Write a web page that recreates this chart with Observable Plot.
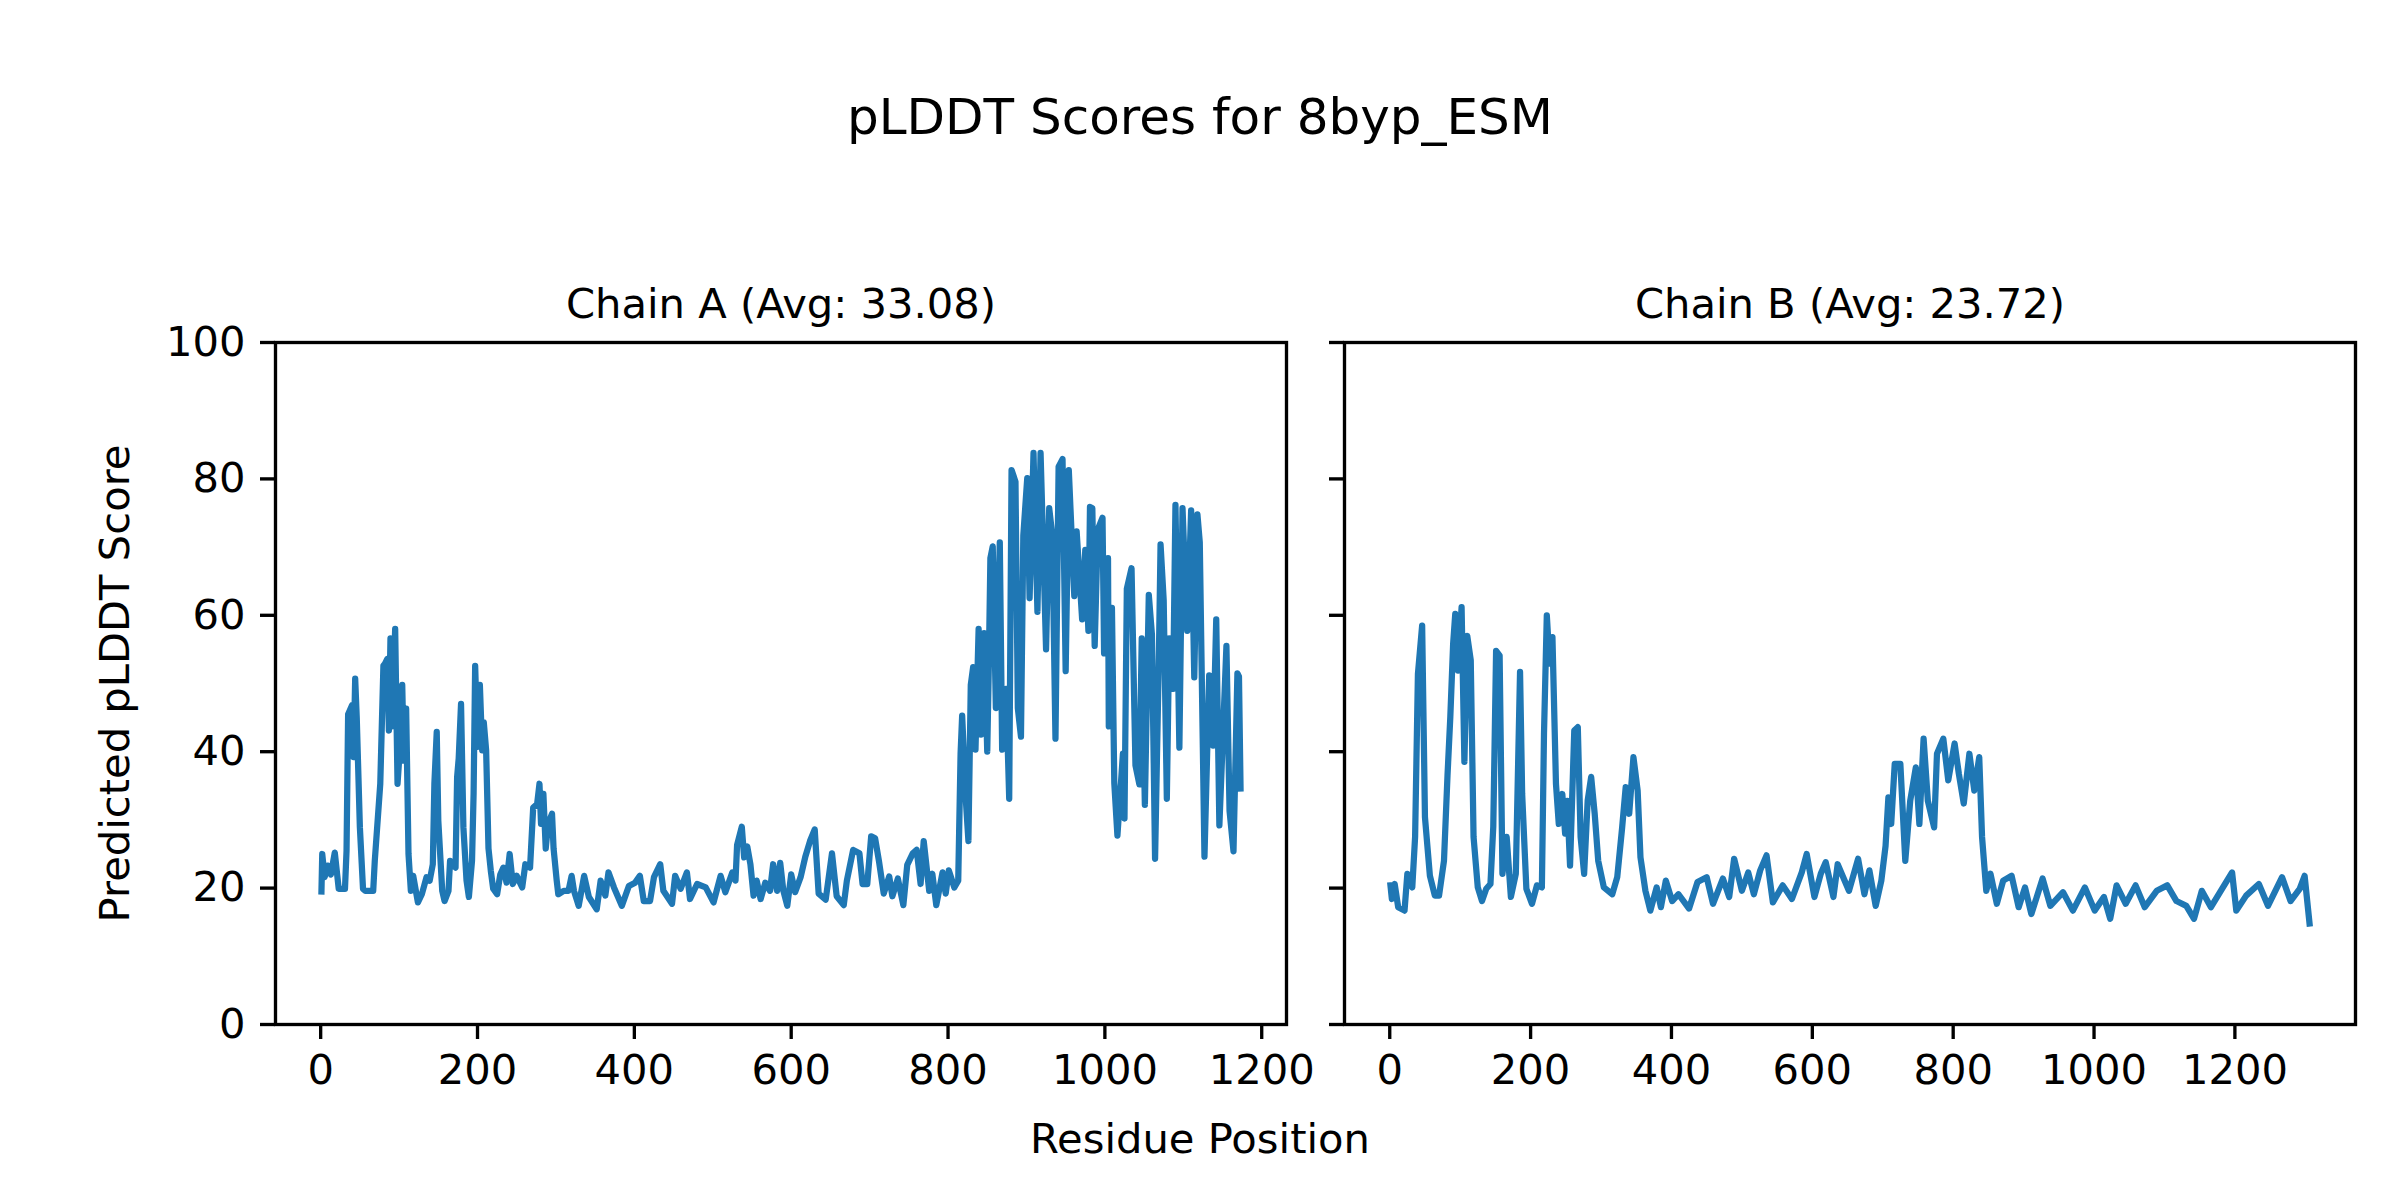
<!DOCTYPE html>
<html>
<head>
<meta charset="utf-8">
<script src="https://cdn.jsdelivr.net/npm/d3@7"></script>
<script src="https://cdn.jsdelivr.net/npm/@observablehq/plot@0.6"></script>
<style>
  html, body { margin: 0; padding: 0; background: #fff; }
  #fig { position: relative; width: 2400px; height: 1200px; background: #fff; font-family: "DejaVu Sans", sans-serif; color: #000; }
  .abs { position: absolute; }
  .sup { left: 0; width: 2400px; text-align: center; white-space: pre; }
</style>
</head>
<body>
<div id="fig"></div>
<script>
// ---------- data ----------
const figTitle = "pLDDT Scores for 8byp_ESM";
const xLabel = "Residue Position";
const yLabel = "Predicted pLDDT Score";
const chainNames = ["Chain A", "Chain B"];
const chainAvgs = [33.08, 23.72];
const xTicks = [0, 200, 400, 600, 800, 1000, 1200];
const yTicks = [0, 20, 40, 60, 80, 100];

const residueA = [1,2,5,9,13,18,23,31,33,35,40,42,44,46,50,54,57,67,69,76,80,82,85,87,89,91,95,98,100,104,106,109,112,115,118,124,129,135,139,143,145,148,150,155,158,163,165,172,174,176,179,182,186,189,193,195,197,200,203,206,208,211,214,217,220,225,229,233,237,241,245,250,257,261,267,271,276,279,281,284,287,290,295,297,301,303,310,316,320,323,329,336,342,352,357,363,367,374,384,393,401,407,412,420,425,433,437,448,452,459,467,471,480,491,501,510,516,525,529,531,537,540,544,548,552,556,561,567,573,577,582,586,590,595,600,605,612,618,624,630,635,644,652,658,667,671,679,687,691,697,702,707,712,718,725,729,736,743,748,755,760,765,769,776,780,785,793,797,801,808,813,816,818,823,826,829,832,835,839,842,846,850,852,854,857,861,866,869,874,878,881,886,889,893,896,901,904,909,914,918,925,929,933,937,941,946,950,954,961,964,971,975,979,981,984,987,991,997,999,1004,1005,1009,1012,1016,1023,1025,1028,1034,1039,1044,1047,1051,1056,1060,1064,1069,1071,1075,1079,1082,1087,1090,1095,1099,1105,1110,1114,1118,1121,1127,1133,1138,1142,1146,1150,1155,1159,1164,1169,1171,1173];
const plddtA = [19.5,25.0,21.6,23.3,22.0,25.2,19.9,19.9,25.5,45.5,46.8,39.2,50.7,45.0,28.9,19.9,19.6,19.6,24.0,35.3,52.6,52.9,53.6,43.1,56.6,43.7,58.0,35.3,38.7,49.8,38.7,46.3,25.0,19.6,21.8,17.9,19.1,21.6,21.1,23.5,35.3,42.9,29.9,19.6,18.1,19.6,24.0,23.0,36.3,39.0,47.0,28.9,21.1,18.7,24.0,33.8,52.6,40.7,49.8,40.2,44.3,40.2,25.8,22.5,19.9,19.1,22.0,23.0,20.8,25.0,20.6,21.8,20.1,23.5,23.0,31.8,32.3,35.3,29.4,33.8,25.8,29.4,30.9,25.8,21.1,19.1,19.6,19.6,21.8,19.6,17.4,21.8,18.7,16.9,21.1,18.9,22.3,20.1,17.4,20.3,20.8,21.8,18.1,18.1,21.6,23.5,19.6,17.7,21.8,19.9,22.3,18.4,20.6,20.1,17.9,21.8,19.4,22.3,21.1,26.3,29.0,24.5,26.1,23.5,18.9,21.1,18.4,20.8,19.6,23.5,19.6,23.7,19.6,17.4,22.0,19.4,21.6,24.6,26.9,28.6,19.2,18.3,25.1,18.8,17.5,21.1,25.6,25.1,20.6,20.6,27.6,27.3,23.9,19.2,21.7,18.8,21.4,17.5,23.4,25.1,25.6,20.6,26.9,19.6,22.1,17.5,22.3,19.2,22.6,20.1,21.1,39.7,45.3,32.4,26.9,49.8,52.4,40.3,58.0,42.5,57.4,40.0,52.7,68.4,70.1,46.4,70.7,40.3,49.2,33.1,81.3,79.6,46.4,42.2,71.7,80.1,62.5,83.8,60.5,83.8,55.0,75.7,71.7,41.9,81.8,82.9,51.8,81.3,62.8,72.3,59.4,69.6,57.7,75.9,75.7,55.5,72.6,74.3,54.4,68.4,43.7,61.1,35.4,27.7,39.7,30.2,63.9,66.9,38.0,35.2,56.6,32.2,63.0,57.2,24.3,55.0,70.4,62.2,33.1,56.6,49.2,76.2,40.6,75.7,57.7,75.4,50.9,74.8,70.7,24.6,51.2,40.9,59.4,29.2,40.9,55.5,31.3,25.4,51.5,51.0,34.6];

const residueB = [1,3,7,12,21,25,32,36,40,46,50,57,64,70,77,82,86,90,93,97,102,106,110,115,119,125,131,137,143,147,151,156,160,166,172,179,185,188,194,202,209,216,219,223,227,231,236,240,245,249,252,256,262,267,271,276,281,286,291,296,304,316,323,330,335,340,346,352,356,363,370,379,385,392,401,410,425,437,450,459,473,482,489,500,509,517,526,535,544,558,571,585,592,603,612,619,630,636,652,665,674,681,690,698,704,708,712,717,725,732,739,747,752,758,764,773,777,786,793,802,808,815,823,830,837,841,847,853,862,871,883,893,902,911,927,938,956,970,987,1001,1014,1023,1032,1045,1059,1072,1089,1104,1117,1131,1142,1153,1166,1180,1196,1202,1216,1234,1247,1267,1279,1292,1299,1306];
const plddtB = [20.4,18.4,20.6,17.2,16.7,22.1,20.1,27.5,51.4,58.5,30.4,21.8,18.9,18.9,24.0,36.5,45.1,55.8,60.2,51.9,61.2,38.5,57.0,53.4,27.5,20.1,18.1,19.9,20.6,29.0,54.8,54.1,22.1,27.5,18.7,22.1,51.7,33.8,19.9,17.7,20.4,20.1,42.6,60.0,52.9,56.8,35.3,29.4,33.8,28.0,32.8,23.3,43.1,43.6,27.5,22.1,32.8,36.3,30.9,24.0,20.1,19.1,21.6,28.9,34.8,30.9,39.2,34.3,24.5,19.6,16.7,20.1,17.2,21.1,18.1,19.1,17.0,20.9,21.6,17.7,21.4,18.7,24.3,19.6,22.3,19.1,22.6,24.8,17.9,20.4,18.4,22.3,25.0,18.7,22.1,23.8,18.7,23.5,19.6,24.3,19.1,22.6,17.4,21.1,26.2,33.3,29.4,38.2,38.2,24.0,32.8,37.7,29.4,41.9,32.8,28.9,39.7,41.9,35.8,41.2,36.8,32.4,39.7,34.3,39.2,27.5,19.6,22.1,17.7,21.1,21.8,17.2,20.1,16.2,21.4,17.4,19.4,16.7,20.1,16.7,18.7,15.5,20.4,17.7,20.4,17.2,19.6,20.4,18.1,17.4,15.5,19.6,17.2,19.6,22.3,16.7,18.9,20.6,17.4,21.6,18.1,19.9,21.8,14.8];

// ---------- rendering ----------
const FS = 41.67;          // 10pt at 300 dpi
const SPINE = 3.33;        // 0.8pt
const LINE = 6.25;         // 1.5pt
const BLUE = "#1f77b4";
const fig = document.getElementById("fig");

function padded(ext) {
  const r = ext[1] - ext[0];
  return [ext[0] - 0.05 * r, ext[1] + 0.05 * r];
}

function panel(residues, values, name, avg, showYLabels, opts) {
  const data = residues.map((r, i) => ({r, v: values[i]}));
  const marks = [
    Plot.line(data, {x: "r", y: "v", stroke: BLUE, strokeWidth: LINE, strokeLinejoin: "round", strokeLinecap: "square"}),
    Plot.frame({stroke: "black", strokeWidth: SPINE}),
    Plot.axisX({ticks: xTicks, tickSize: 15, tickPadding: 15, strokeWidth: SPINE, tickFormat: d => String(d), label: null}),
    Plot.axisY({ticks: yTicks, tickSize: 15, tickPadding: 15, strokeWidth: SPINE,
      tickFormat: showYLabels ? (d => String(d)) : (() => ""), label: null}),
    Plot.text([`${name} (Avg: ${avg.toFixed(2)})`], {frameAnchor: "top", lineAnchor: "middle", dy: -38, fontSize: FS, fill: "black"})
  ];
  if (showYLabels) {
    marks.push(Plot.text([yLabel], {frameAnchor: "left", textAnchor: "middle", rotate: -90, lineAnchor: "middle", dx: -160, fontSize: FS, fill: "black"}));
  }
  const svg = Plot.plot({
    width: opts.width,
    height: 1200,
    marginLeft: opts.ml,
    marginRight: opts.mr,
    marginTop: 342,
    marginBottom: 176,
    style: {fontFamily: "DejaVu Sans", fontSize: FS + "px", color: "black", background: "transparent", overflow: "visible"},
    x: {domain: padded(d3.extent(residues)), label: null},
    y: {domain: [0, 100], label: null},
    marks
  });
  svg.classList.add("abs");
  svg.style.left = opts.left + "px";
  svg.style.top = "0px";
  svg.style.maxWidth = "none";
  return svg;
}

fig.appendChild(panel(residueA, plddtA, chainNames[0], chainAvgs[0], true, {left: 0, width: 1320, ml: 275, mr: 34}));
fig.appendChild(panel(residueB, plddtB, chainNames[1], chainAvgs[1], false, {left: 1320, width: 1080, ml: 24, mr: 45}));

const t = document.createElement("div");
t.className = "abs sup";
t.style.top = "91.7px";
t.style.fontSize = "50px";
t.style.lineHeight = "50px";
t.textContent = figTitle;
fig.appendChild(t);

const xl = document.createElement("div");
xl.className = "abs sup";
xl.style.top = "1117.7px";
xl.style.fontSize = FS + "px";
xl.style.lineHeight = FS + "px";
xl.textContent = xLabel;
fig.appendChild(xl);
</script>
</body>
</html>
